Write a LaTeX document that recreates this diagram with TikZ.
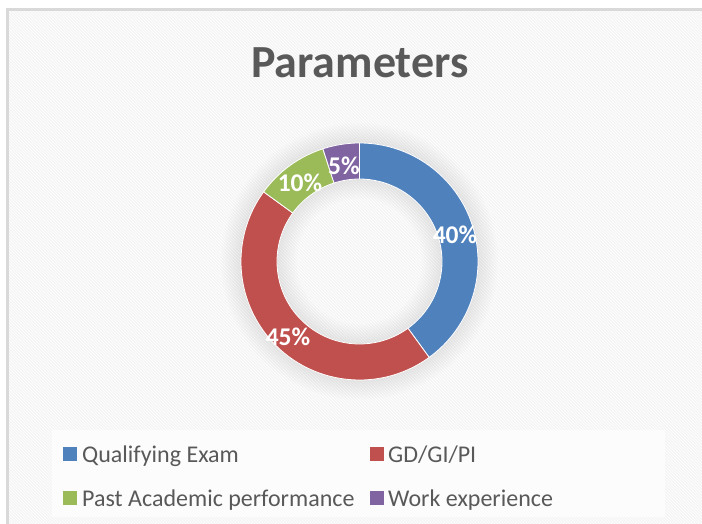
\documentclass[tikz,border=0pt]{standalone}
\usepackage{fontspec}
\setmainfont{Carlito}
\usetikzlibrary{patterns}
\definecolor{qexam}{HTML}{4F81BD}
\definecolor{gdpi}{HTML}{C0504D}
\definecolor{acad}{HTML}{9BBB59}
\definecolor{work}{HTML}{8064A2}
\definecolor{txtgray}{HTML}{595959}
\definecolor{chartbg}{HTML}{F5F5F5}
\definecolor{framegray}{HTML}{D9D9D9}

\tikzset{
	slice/.style={draw=white,line width=0.8pt},
	pct/.style={text=white,font=\fontsize{25.5}{26}\selectfont\bfseries},
	legkey/.style={minimum size=14pt,inner sep=0pt},
	legtext/.style={text=txtgray,font=\fontsize{24}{26}\selectfont,anchor=base west,inner sep=0pt},
}

\begin{document}
\begin{tikzpicture}[x=1pt,y=1pt]
		\useasboundingbox (0,0) rectangle (702,-524);
		\clip (0,0) rectangle (702,-524);
		% chart area
		\fill[white] (0,0) rectangle (702,-524);
		\fill[chartbg] (7,-10) rectangle (720,-540);
		\fill[pattern=north west lines,pattern color=white] (7,-10) rectangle (720,-540);
		\draw[framegray,line width=3pt] (7,-540) -- (7,-10) -- (720,-10);
		% soft shadow round the ring
		\foreach \w in {40,44,...,76}
			\draw[black,opacity=0.009,line width=\w pt] (359.5,-261.5) circle[radius=100.5pt];
		% slices
		\begin{scope}[shift={(359.5,-261.5)}]
			\fill[qexam,slice] (90:118.5) arc[start angle=90,end angle=-54,radius=118.5pt] -- (-54:82.5) arc[start angle=-54,end angle=90,radius=82.5pt] -- cycle;
			\fill[gdpi,slice] (-54:118.5) arc[start angle=-54,end angle=-216,radius=118.5pt] -- (-216:82.5) arc[start angle=-216,end angle=-54,radius=82.5pt] -- cycle;
			\fill[acad,slice] (144:118.5) arc[start angle=144,end angle=108,radius=118.5pt] -- (108:82.5) arc[start angle=108,end angle=144,radius=82.5pt] -- cycle;
			\fill[work,slice] (108:118.5) arc[start angle=108,end angle=90,radius=118.5pt] -- (90:82.5) arc[start angle=90,end angle=108,radius=82.5pt] -- cycle;
		\end{scope}
		\node[pct] (p-qexam) at (455,-235) {40\%};
		\node[pct] (p-gdpi) at (288,-337) {45\%};
		\node[pct] (p-acad) at (300,-183) {10\%};
		\node[pct] (p-work) at (344,-166) {5\%};
		% title
		\node[text=txtgray,font=\fontsize{46}{50}\selectfont\bfseries,anchor=base] (title) at (360,-78) {Parameters};
		% legend
		\fill[white,opacity=0.6] (52,-430) rectangle (665,-517);
		\node[legkey,fill=qexam] (k-qexam) at (70,-454) {};
		\node[legtext] (l-qexam) at (82,-462) {Qualifying Exam};
		\node[legkey,fill=gdpi] (k-gdpi) at (377,-454) {};
		\node[legtext] (l-gdpi) at (388,-462) {GD/GI/PI};
		\node[legkey,fill=acad] (k-acad) at (70,-498) {};
		\node[legtext] (l-acad) at (82,-506) {Past Academic performance};
		\node[legkey,fill=work] (k-work) at (377,-498) {};
		\node[legtext] (l-work) at (388,-506) {Work experience};
	\end{tikzpicture}
\end{document}
